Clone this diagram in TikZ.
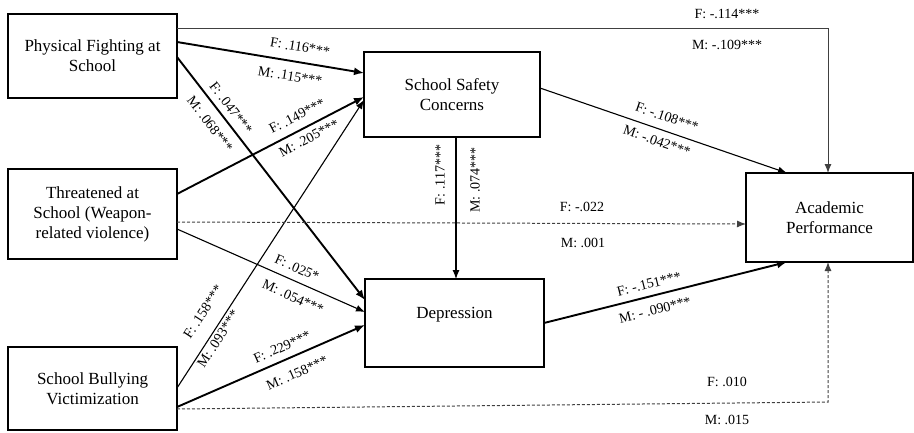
\documentclass[tikz,border=0pt]{standalone}
\usepackage{fontspec}
\setmainfont{Liberation Serif}
\usetikzlibrary{arrows.meta,calc}
\begin{document}
\begin{tikzpicture}[x=1pt,y=-1pt,
  box/.style={draw, line width=2pt, inner sep=0pt, outer sep=0pt, align=center,
    font=\fontsize{17}{20}\selectfont},
  boxtext/.style={inner sep=0pt, align=center, font=\fontsize{17}{20}\selectfont},
  lab/.style={inner sep=0pt, font=\fontsize{14}{16}\selectfont},
  thk/.style={line width=1.9pt, -{Latex[length=10pt,width=8pt]}},
  thn/.style={line width=1.1pt, -{Latex[length=9pt,width=7pt]}},
  grl/.style={line width=1pt, draw=black!75, -{Latex[length=9pt,width=7pt]}},
  dsh/.style={line width=1pt, draw=black!75, dash pattern=on 3pt off 2pt, -{Latex[length=9pt,width=7pt]}}
]
\useasboundingbox (0,0) rectangle (914,432);

% boxes
\node[box, minimum width=169pt, minimum height=84pt] (pf) at (92.5,56) {Physical Fighting at\\School};
\node[box, minimum width=169pt, minimum height=90pt] (th) at (92.5,214) {Threatened at\\School (Weapon-\\related violence)};
\node[box, minimum width=169pt, minimum height=83pt] (bu) at (92.5,388.5) {School Bullying\\Victimization};
\node[box, minimum width=176pt, minimum height=85pt] (ssc) at (452,94.5) {School Safety\\Concerns};
\node[box, minimum width=179pt, minimum height=88pt] (dep) at (454.5,323) {};
\node[boxtext] (deptext) at (454.5,315) {Depression};
\node[box, minimum width=167pt, minimum height=89pt] (ap) at (829.5,217.5) {Academic\\Performance};

% connectors
\coordinate (c1) at ($(ap.north)+(-1.5,0)$);
\draw[grl] ($(pf.north east)+(0,14)$) -| (c1);
\draw[thk] ($(pf.north east)+(0,28)$) -- ($(ssc.north west)+(0,21)$);
\draw[thk] ($(pf.north east)+(0,43)$) -- ($(dep.north west)+(0,21)$);
\draw[thk] ($(th.north east)+(0,25)$) -- ($(ssc.north west)+(0,45)$);
\draw[thn] ($(bu.north east)+(0,41)$) -- ($(ssc.north west)+(0,48)$);
\draw[thn] ($(th.north east)+(0,60)$) -- ($(dep.north west)+(0,33)$);
\draw[thk] ($(bu.north east)+(0,60)$) -- ($(dep.north west)+(0,46)$);
\draw[dsh] ($(th.north east)+(0,53)$) -- ($(ap.north west)+(0,51)$);
\coordinate (c2) at ($(ap.south)+(-1.5,140)$);
\draw[dsh] ($(bu.north east)+(0,62)$) -- (c2) -- ($(ap.south)+(-1.5,0)$);
\coordinate (v1) at ($(ssc.south)+(4,0)$);
\draw[thn] (v1) -- (v1 |- dep.north);
\draw[thn] ($(ssc.north east)+(0,36)$) -- ($(ap.north west)+(41,0)$);
\draw[thk] ($(dep.north east)+(0,44)$) -- ($(ap.south west)+(41,0)$);

% labels
\node[lab] (l1) at (727,14) {F: -.114***};
\node[lab] (l2) at (727,45) {M: -.109***};
\node[lab, rotate=-9.4] (l3) at (300,47) {F: .116***};
\node[lab, rotate=-9.4] (l4) at (290,76) {M: .115***};
\node[lab, rotate=-52.4] (l5) at (231,108) {F: .047***};
\node[lab, rotate=-52.4] (l6) at (210,124) {M: .068***};
\node[lab, rotate=27.4] (l7) at (297,116) {F: .149***};
\node[lab, rotate=27.4] (l8) at (309,138) {M: .205***};
\node[lab, rotate=90] (l9) at (440,175) {F: .117***};
\node[lab, rotate=90] (l10) at (475,180) {M: .074***};
\node[lab, rotate=-19] (l11) at (667,117) {F: -.108***};
\node[lab, rotate=-19] (l12) at (657,141) {M: -.042***};
\node[lab] (l13) at (582,207) {F: -.022};
\node[lab] (l14) at (583,243) {M: .001};
\node[lab, rotate=-23.9] (l15) at (297,268) {F: .025*};
\node[lab, rotate=-23.9] (l16) at (293,297) {M: .054***};
\node[lab, rotate=57.1] (l17) at (203,312) {F: .158***};
\node[lab, rotate=57.1] (l18) at (218,339) {M: .093***};
\node[lab, rotate=23.7] (l19) at (282,347) {F: .229***};
\node[lab, rotate=23.7] (l20) at (297,373) {M: .158***};
\node[lab, rotate=14.1] (l21) at (649,284) {F: -.151***};
\node[lab, rotate=14.1] (l22) at (655,310) {M: - .090***};
\node[lab] (l23) at (727,382) {F: .010};
\node[lab] (l24) at (727,420) {M: .015};
\end{tikzpicture}
\end{document}
